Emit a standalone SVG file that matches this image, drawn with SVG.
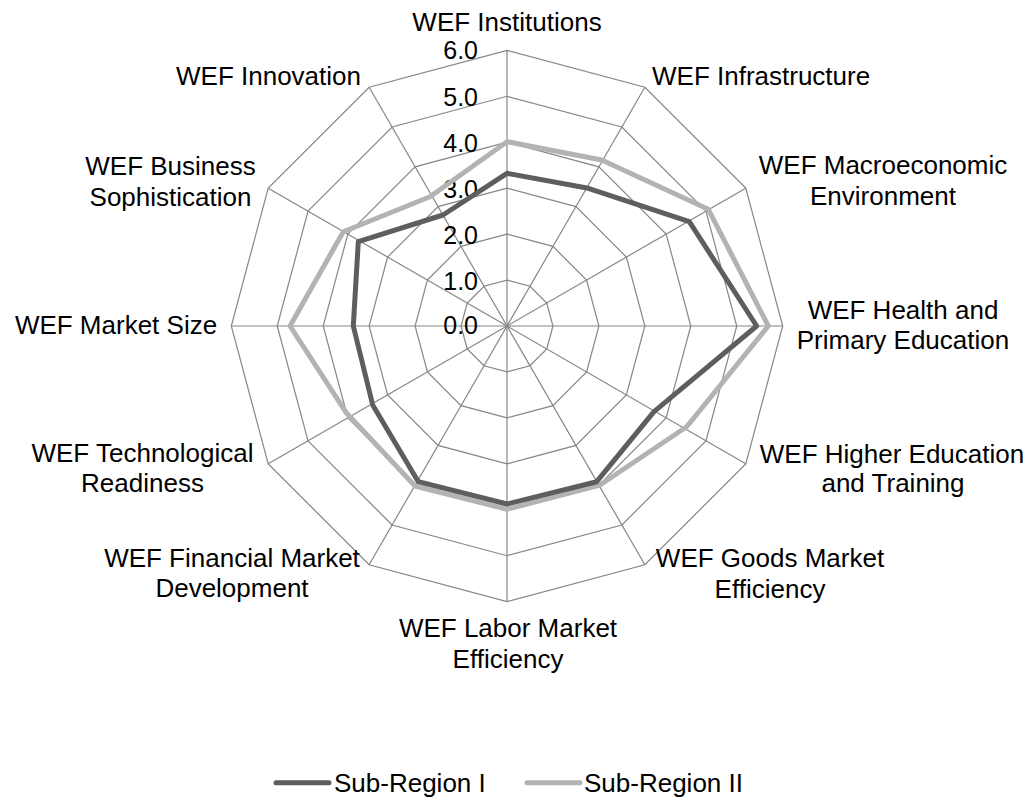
<svg xmlns="http://www.w3.org/2000/svg" width="1029" height="798" viewBox="0 0 1029 798">
<style>
.grid{fill:none;stroke:#868686;stroke-width:1.2}
.spoke{stroke:#868686;stroke-width:1.2}
.lbl{font-family:"Liberation Sans",Arial,sans-serif;font-size:26px;fill:#000}
.tick{font-family:"Liberation Sans",Arial,sans-serif;font-size:25px;fill:#000;text-anchor:end}
.s1{fill:none;stroke:#5e5e5e;stroke-width:5;stroke-linejoin:round}
.s2{fill:none;stroke:#b3b3b3;stroke-width:5;stroke-linejoin:round}
.c{text-anchor:middle}
</style>
<rect width="1029" height="798" fill="#fff"/>
<g id="grid">
<polygon class="grid" points="507,280.05 529.98,286.21 546.79,303.02 552.95,326 546.79,348.98 529.98,365.79 507,371.95 484.02,365.79 467.21,348.98 461.05,326 467.21,303.02 484.02,286.21"/>
<polygon class="grid" points="507,234.1 552.95,246.41 586.59,280.05 598.9,326 586.59,371.95 552.95,405.59 507,417.9 461.05,405.59 427.41,371.95 415.1,326 427.41,280.05 461.05,246.41"/>
<polygon class="grid" points="507,188.15 575.93,206.62 626.38,257.07 644.85,326 626.38,394.93 575.93,445.38 507,463.85 438.07,445.38 387.62,394.93 369.15,326 387.62,257.07 438.07,206.62"/>
<polygon class="grid" points="507,142.2 598.9,166.83 666.17,234.1 690.8,326 666.17,417.9 598.9,485.17 507,509.8 415.1,485.17 347.83,417.9 323.2,326 347.83,234.1 415.1,166.83"/>
<polygon class="grid" points="507,96.25 621.88,127.04 705.96,211.12 736.75,326 705.96,440.88 621.88,524.96 507,555.75 392.12,524.96 308.04,440.88 277.25,326 308.04,211.12 392.12,127.04"/>
<polygon class="grid" points="507,50.3 644.85,87.24 745.76,188.15 782.7,326 745.76,463.85 644.85,564.76 507,601.7 369.15,564.76 268.24,463.85 231.3,326 268.24,188.15 369.15,87.24"/>
</g>
<g id="spokes">
<line class="spoke" x1="507" y1="326" x2="507" y2="50.3"/>
<line class="spoke" x1="507" y1="326" x2="644.85" y2="87.24"/>
<line class="spoke" x1="507" y1="326" x2="745.76" y2="188.15"/>
<line class="spoke" x1="507" y1="326" x2="782.7" y2="326"/>
<line class="spoke" x1="507" y1="326" x2="745.76" y2="463.85"/>
<line class="spoke" x1="507" y1="326" x2="644.85" y2="564.76"/>
<line class="spoke" x1="507" y1="326" x2="507" y2="601.7"/>
<line class="spoke" x1="507" y1="326" x2="369.15" y2="564.76"/>
<line class="spoke" x1="507" y1="326" x2="268.24" y2="463.85"/>
<line class="spoke" x1="507" y1="326" x2="231.3" y2="326"/>
<line class="spoke" x1="507" y1="326" x2="268.24" y2="188.15"/>
<line class="spoke" x1="507" y1="326" x2="369.15" y2="87.24"/>
</g>
<g id="ticks">
<text class="tick" x="478" y="59">6.0</text>
<text class="tick" x="478" y="105.5">5.0</text>
<text class="tick" x="478" y="151.5">4.0</text>
<text class="tick" x="478" y="197.5">3.0</text>
<text class="tick" x="478" y="243.5">2.0</text>
<text class="tick" x="478" y="289.5">1.0</text>
<text class="tick" x="478" y="334">0.0</text>
</g>
<g id="series">
<polygon id="sub-region-ii" class="s2" points="507,141.7 601.7,160 708.3,209.3 768.3,326 686.7,426.7 600,485 507,509.3 415,486 346.7,413.3 290,326 343.3,231.7 430,196.7"/>
<polygon id="sub-region-i" class="s1" points="507,173.3 588.3,188.3 689.3,221.7 756.7,326 654,411.7 596.7,481.7 507,504 418.3,481.7 372.7,405 353.3,326 358.3,241.7 443,215"/>
</g>
<g id="labels">
<text class="lbl c" x="507" y="30.5">WEF Institutions</text>
<text class="lbl" x="652" y="85">WEF Infrastructure</text>
<text class="lbl c" x="883" y="174">WEF Macroeconomic</text>
<text class="lbl c" x="883" y="205">Environment</text>
<text class="lbl c" x="903" y="318.5">WEF Health and</text>
<text class="lbl c" x="903" y="348.5">Primary Education</text>
<text class="lbl c" x="892" y="462.5">WEF Higher Education</text>
<text class="lbl c" x="893" y="492">and Training</text>
<text class="lbl c" x="770" y="566.5">WEF Goods Market</text>
<text class="lbl c" x="770" y="598">Efficiency</text>
<text class="lbl c" x="508" y="636.5">WEF Labor Market</text>
<text class="lbl c" x="508" y="668">Efficiency</text>
<text class="lbl c" x="232" y="566.5">WEF Financial Market</text>
<text class="lbl c" x="232" y="596.5">Development</text>
<text class="lbl c" x="142.5" y="461.5">WEF Technological</text>
<text class="lbl c" x="142.5" y="491.5">Readiness</text>
<text class="lbl c" x="116" y="333.5">WEF Market Size</text>
<text class="lbl c" x="170.5" y="175">WEF Business</text>
<text class="lbl c" x="170.5" y="205.5">Sophistication</text>
<text class="lbl c" x="268.5" y="85">WEF Innovation</text>
</g>
<g id="legend">
<line x1="276" y1="782.7" x2="329" y2="782.7" stroke="#5e5e5e" stroke-width="5" stroke-linecap="round"/>
<text class="lbl" x="334" y="791.5">Sub-Region I</text>
<line x1="527" y1="782.7" x2="580" y2="782.7" stroke="#b3b3b3" stroke-width="5" stroke-linecap="round"/>
<text class="lbl" x="584" y="791.5">Sub-Region II</text>
</g>
</svg>
